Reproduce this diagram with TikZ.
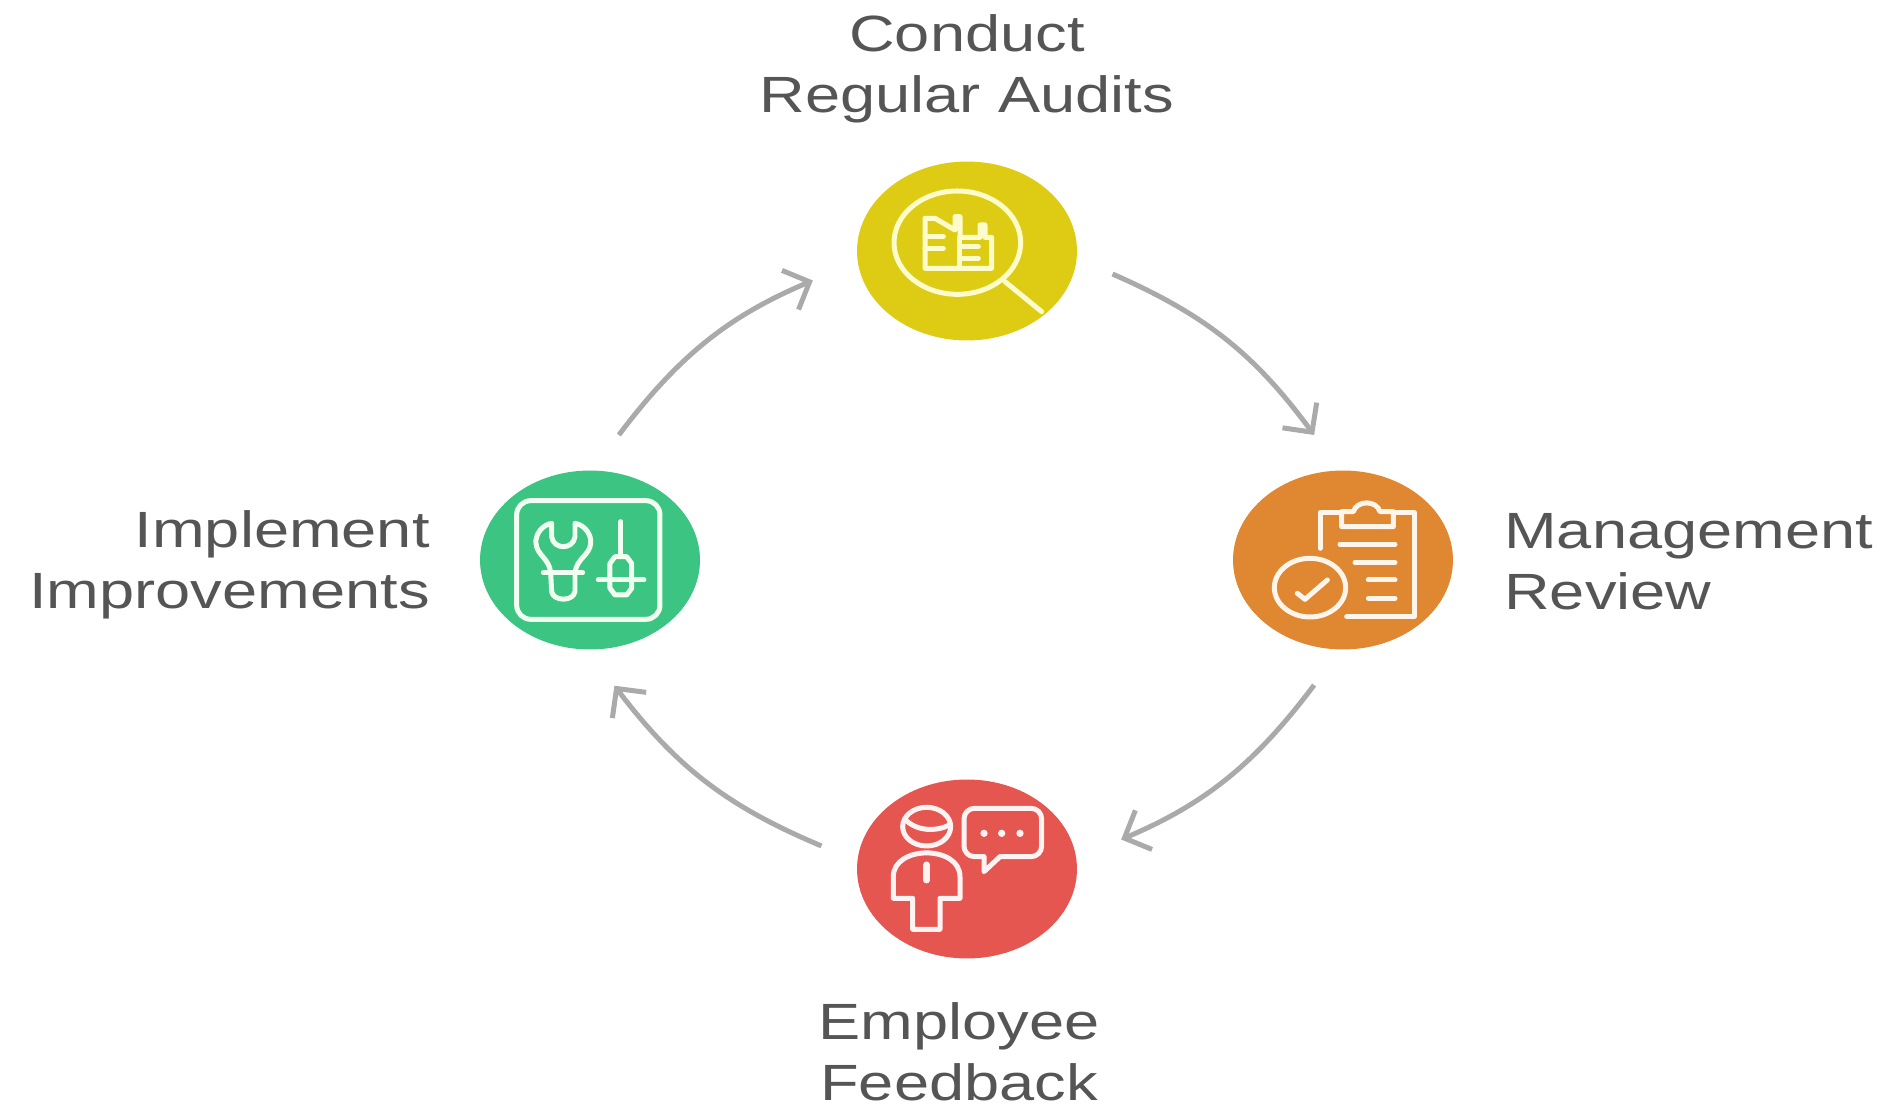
\documentclass[tikz,border=0pt]{standalone}
\usepackage{fontspec}
\setmainfont[FakeStretch=1.24]{Liberation Sans}
\usetikzlibrary{positioning,arrows.meta,shapes.geometric}
\definecolor{flowgray}{HTML}{AAAAAA}
\definecolor{textgray}{HTML}{555555}
\definecolor{auditfill}{HTML}{DECC14}
\definecolor{reviewfill}{HTML}{E08732}
\definecolor{feedbackfill}{HTML}{E55650}
\definecolor{improvefill}{HTML}{3CC482}
\begin{document}
\begin{tikzpicture}[
    x=0.02cm,y=0.02cm,
    stage/.style={ellipse,minimum width=4.4cm,minimum height=3.58cm,inner sep=0pt,outer sep=0.76cm},
    caption/.style={inner sep=0pt,text=textgray,font=\fontsize{29}{34.6}\selectfont},
    flow/.style={->,draw=flowgray,line width=0.1cm,>={Straight Barb[length=0.42cm,width=0.85cm]}},
    icon/.style={line width=0.1cm,line cap=round,line join=round},
    zoomed/.style={x=0.00667cm,y=-0.00667cm}
]
    \useasboundingbox (0,0) rectangle (1887,1109);

    % Define nodes
    \node[stage,fill=auditfill] (audit) at (967,858) {};
    \node[stage,fill=reviewfill] (review) at (1343,549) {};
    \node[stage,fill=feedbackfill] (feedback) at (967,240) {};
    \node[stage,fill=improvefill] (improve) at (590,549) {};

    % Captions
    \node[caption,align=center,above=0cm of audit] (auditcap) {Conduct\\Regular Audits};
    \node[caption,align=left,right=0.26cm of review,yshift=-0.03cm] (reviewcap) {Management\\Review};
    \node[caption,align=center,below=0.12cm of feedback,xshift=-0.16cm] (feedbackcap) {Employee\\Feedback};
    \node[caption,align=right,left=0.24cm of improve,yshift=-0.1cm] (improvecap) {Implement\\Improvements};

    % Draw arrows
    \draw[flow] (audit.-9) to[bend left=15] (review.103);
    \draw[flow,shorten >=0.2cm] (review.-103) to[bend left=15] (feedback.10);
    \draw[flow] (feedback.171) to[bend left=15] (improve.-79);
    \draw[flow,shorten >=0.2cm] (improve.77) to[bend left=15] (audit.190);

    % Magnifier over a factory
    \begin{scope}[shift={(840,959)},zoomed,icon,draw=yellow!20!white]
        \draw (352,278) ellipse [x radius=190,y radius=155];
        \draw (495,395) -- (605,485);
        \draw (255,355) -- (255,205) -- (285,205) -- (345,240) -- (345,200) -- (360,200) -- (360,262)
            -- (420,262) -- (420,225) -- (435,225) -- (435,262) -- (455,262) -- (455,355) -- cycle;
        \draw (255,260) -- (310,260) (255,295) -- (310,295) (358,262) -- (358,355);
        \draw (360,290) -- (415,290) (360,325) -- (415,325);
    \end{scope}

    % Clipboard with a tick
    \begin{scope}[shift={(1220,649)},zoomed,icon,draw=orange!8!white]
        \draw (300,265) -- (300,158) -- (365,158);
        \draw (520,158) -- (583,158) -- (583,470) -- (380,470);
        \draw (365,200) -- (365,155) -- (400,155) .. controls (410,120) and (470,120) .. (480,155) -- (520,155) -- (520,200) -- cycle;
        \draw (360,253) -- (525,253) (405,307) -- (525,307) (445,360) -- (525,360) (445,415) -- (525,415);
        \draw (270,383) ellipse [x radius=107,y radius=88];
        \draw (232,400) -- (255,418) -- (322,360);
    \end{scope}

    % Person and speech bubble
    \begin{scope}[shift={(840,339)},zoomed,icon,draw=red!5!white]
        \draw (260,170) ellipse [x radius=72,y radius=58];
        \draw (195,148) .. controls (230,185) and (290,185) .. (328,165);
        \draw (160,385) -- (160,320) .. controls (160,225) and (360,225) .. (360,320) -- (360,385)
            -- (300,385) -- (300,478) -- (218,478) -- (218,385) -- cycle;
        \draw[line width=0.14cm] (260,285) -- (260,330);
        \draw[rounded corners=6pt] (480,260) -- (605,260) -- (605,115) -- (372,115) -- (372,260) -- (432,260);
        \draw (432,260) -- (432,305) -- (480,260);
        \fill[red!5!white] (432,190) circle (11) (485,190) circle (11) (540,190) circle (11);
    \end{scope}

    % Wrench and screwdriver in a frame
    \begin{scope}[shift={(460,649)},zoomed,icon,draw=green!6!white]
        \draw[rounded corners=8pt] (170,122) rectangle (600,478);
        \draw (275,190) -- (275,230) .. controls (280,270) and (340,270) .. (345,230) -- (345,190)
            .. controls (375,195) and (395,225) .. (392,250) .. controls (390,285) and (350,295) .. (345,338)
            -- (345,395) .. controls (340,425) and (280,425) .. (275,395) -- (272,338)
            .. controls (268,295) and (230,285) .. (228,250) .. controls (225,225) and (245,195) .. cycle;
        \draw (250,338) -- (368,338);
        \draw (483,185) -- (483,290);
        \draw (450,385) -- (450,310) -- (465,290) -- (500,290) -- (515,310) -- (515,385) -- (500,405) -- (465,405) -- cycle;
        \draw (415,360) -- (552,360);
    \end{scope}
\end{tikzpicture}
\end{document}
